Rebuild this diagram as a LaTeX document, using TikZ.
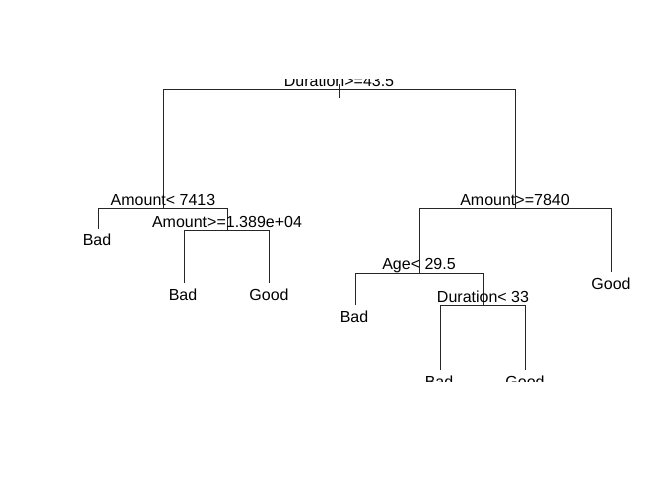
\documentclass[tikz,border=0pt]{standalone}
\usepackage{fontspec}
\setmainfont{Liberation Sans}
\begin{document}
\begin{tikzpicture}[x=1pt,y=-1pt,
  lbl/.style={font=\fontsize{16}{19}\selectfont, inner sep=0pt, anchor=base},
  br/.style={draw=black!85, line width=0.75pt}]
\useasboundingbox[fill=white] (0,0) rectangle (672,480);
\begin{scope}
\clip (0,79) rectangle (672,381);
% junction coordinates
\coordinate (rt) at (339,84);
\coordinate (rb) at (339,98);
\coordinate (r1) at (163,89);
\coordinate (r2) at (515,89);
\coordinate (a) at (163,208);
\coordinate (a1) at (98,208);
\coordinate (a2) at (227,208);
\coordinate (a1e) at (98,229);
\coordinate (b) at (227,230);
\coordinate (b1) at (184,230);
\coordinate (b2) at (269,230);
\coordinate (b1e) at (184,283);
\coordinate (b2e) at (269,283);
\coordinate (c) at (515,208);
\coordinate (c1) at (419,208);
\coordinate (c2) at (611,208);
\coordinate (c2e) at (611,272);
\coordinate (d) at (419,273);
\coordinate (d1) at (355,273);
\coordinate (d2) at (483,273);
\coordinate (d1e) at (355,305);
\coordinate (e) at (483,305);
\coordinate (e1) at (440,305);
\coordinate (e2) at (525,305);
\coordinate (e1e) at (440,370);
\coordinate (e2e) at (525,370);
% branches
\draw[br] (rt) -- (rb);
\draw[br] (a) -- (r1) -- (r2) -- (c);
\draw[br] (a1e) -- (a1) -- (a2) -- (b);
\draw[br] (b1e) -- (b1) -- (b2) -- (b2e);
\draw[br] (d) -- (c1) -- (c2) -- (c2e);
\draw[br] (d1e) -- (d1) -- (d2) -- (e);
\draw[br] (e1e) -- (e1) -- (e2) -- (e2e);
% labels
\node[lbl] (n0) at (339,86) {Duration>=43.5};
\node[lbl] (n1) at (163,205) {Amount< 7413};
\node[lbl] (l1) at (97,245.5) {Bad};
\node[lbl] (n2) at (227,227) {Amount>=1.389e+04};
\node[lbl] (l2) at (183,300) {Bad};
\node[lbl] (l3) at (269,300) {Good};
\node[lbl] (n3) at (515,205) {Amount>=7840};
\node[lbl] (l4) at (611,289) {Good};
\node[lbl] (n4) at (419,269.5) {Age< 29.5};
\node[lbl] (l5) at (354,322) {Bad};
\node[lbl] (n5) at (483,302.5) {Duration< 33};
\node[lbl] (l6) at (439,387) {Bad};
\node[lbl] (l7) at (525,387) {Good};
\end{scope}
\end{tikzpicture}
\end{document}
